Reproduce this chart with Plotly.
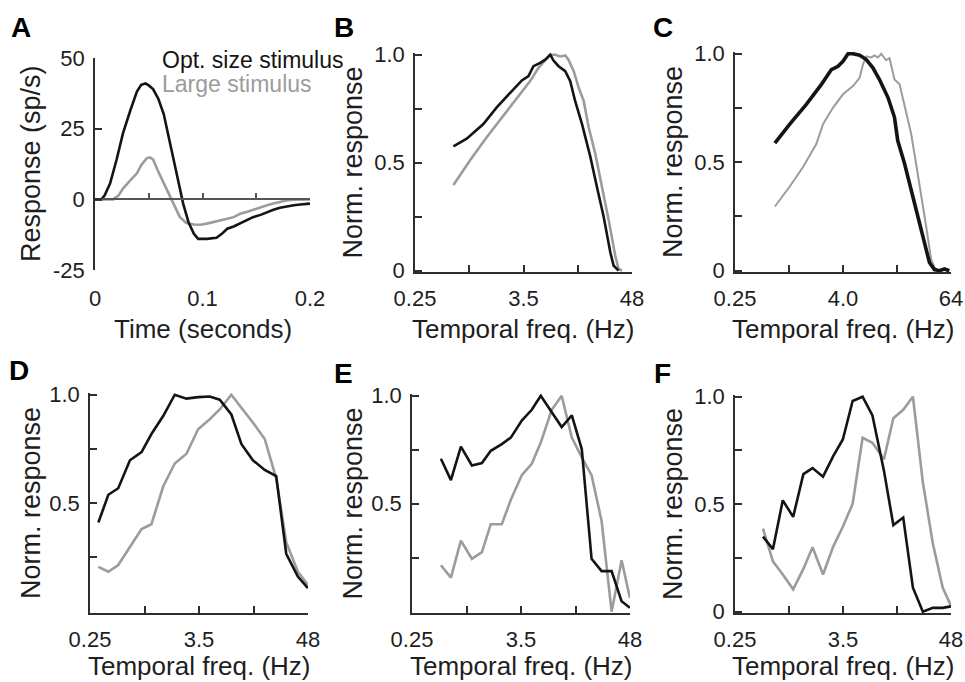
import numpy as np
import plotly.graph_objects as go

# ---------------- data ----------------
# Panel A: time course (s) vs response (sp/s)
a_t_opt = [0, 0.006, 0.009, 0.014, 0.020, 0.026, 0.033, 0.039, 0.043, 0.047,
           0.050, 0.054, 0.059, 0.064, 0.068, 0.073, 0.078, 0.082, 0.087, 0.092,
           0.096, 0.104, 0.113, 0.118, 0.123, 0.129, 0.135, 0.141, 0.147, 0.154,
           0.160, 0.166, 0.172, 0.178, 0.185, 0.191, 0.200]
a_r_opt = [0, 0, 1.4, 5.6, 13.9, 23.3, 31.6, 38.1, 40.5, 41.0,
           40.3, 39.0, 35.5, 30.1, 23.0, 14.7, 5.5, -1.5, -8.1, -12.2,
           -14.0, -14.0, -13.6, -12.2, -10.4, -9.6, -8.4, -7.5, -6.3, -5.5,
           -4.5, -3.7, -3.0, -2.5, -2.1, -1.8, -1.5]
a_t_large = [0, 0.017, 0.022, 0.026, 0.033, 0.039, 0.043, 0.048, 0.051, 0.054,
             0.059, 0.064, 0.068, 0.073, 0.079, 0.085, 0.092, 0.098, 0.104, 0.110,
             0.116, 0.123, 0.129, 0.135, 0.141, 0.147, 0.154, 0.160, 0.166, 0.172,
             0.178, 0.185, 0.191, 0.200]
a_r_large = [0, 0, 1.4, 3.8, 6.8, 9.2, 12.1, 14.5, 14.8, 14.1,
             9.7, 5.5, 2.6, -1.5, -6.3, -8.4, -8.9, -9.0, -8.6, -8.1,
             -7.7, -6.9, -6.3, -5.1, -4.5, -3.7, -3.0, -2.1, -1.5, -0.9,
             -0.4, -0.1, 0, 0]

# Panel B
b_f_opt = [0.634, 0.875, 1.31, 1.81, 2.61, 3.33, 3.91, 4.41, 5.19, 5.86, 6.62, 7.17,
           8.1, 9.52, 10.75, 12.1, 14.3, 17.5, 20.5, 24.1, 28.4, 30.8, 34.7]
b_r_opt = [0.576, 0.611, 0.679, 0.756, 0.832, 0.881, 0.901, 0.947, 0.962, 0.977, 1.0, 0.973,
           0.947, 0.924, 0.878, 0.786, 0.679, 0.527, 0.389, 0.252, 0.084, 0.023, 0.0]
b_f_large = [0.634, 0.95, 1.42, 2.13, 3.2, 4.07, 4.98, 5.86, 6.62, 7.47, 8.43, 9.52,
             10.3, 11.7, 13.2, 14.9, 16.8, 19.7, 23.2, 27.2, 32.0, 34.7, 37.7]
b_r_large = [0.397, 0.511, 0.618, 0.718, 0.817, 0.878, 0.939, 0.977, 1.0, 1.0, 0.992, 0.997,
             0.977, 0.924, 0.847, 0.786, 0.664, 0.542, 0.389, 0.237, 0.069, 0.008, 0.0]

# Panel C
c_f_opt = [0.696, 1.02, 1.56, 2.30, 2.97, 3.52, 4.0, 4.55, 5.17, 6.13, 7.27, 8.62, 10.2,
           12.7, 15.0, 16.3, 19.4, 23.0, 27.3, 32.3, 36.8, 41.8, 47.5, 54.0, 61.3]
c_r_opt = [0.588, 0.676, 0.767, 0.859, 0.927, 0.942, 0.965, 1.0, 1.0, 0.993, 0.973, 0.935, 0.881,
           0.798, 0.707, 0.6, 0.494, 0.372, 0.266, 0.129, 0.038, 0.005, 0.0, 0.008, 0.0]
c_f_large = [0.696, 1.02, 1.44, 2.02, 2.40, 3.10, 4.0, 5.17, 6.13, 6.67, 7.27, 8.26, 9.0, 9.8,
             10.7, 12.1, 13.2, 15.0, 17.1, 20.2, 23.0, 26.1, 29.7, 33.8, 38.4, 41.8, 45.5,
             51.7, 58.8]
c_r_large = [0.296, 0.388, 0.479, 0.585, 0.676, 0.752, 0.813, 0.851, 0.889, 0.950, 0.988, 0.983,
             0.992, 0.983, 1.0, 0.97, 0.98, 0.881, 0.859, 0.737, 0.631, 0.494, 0.357, 0.205,
             0.053, 0.015, 0.0, 0.005, 0.0]

# Panel D
d_f = [0.306, 0.389, 0.494, 0.655, 0.867, 1.10, 1.46, 1.93, 2.56, 3.39, 4.49, 5.71, 7.56,
       9.62, 12.7, 16.9, 22.3, 28.4, 37.6, 47.9]
d_r_opt = [0.411, 0.539, 0.569, 0.698, 0.736, 0.819, 0.902, 1.0, 0.982, 0.989, 0.992, 0.977,
           0.909, 0.773, 0.698, 0.653, 0.625, 0.267, 0.162, 0.109]
d_r_large = [0.207, 0.184, 0.215, 0.298, 0.381, 0.403, 0.577, 0.683, 0.728, 0.841, 0.887,
             0.932, 1.0, 0.94, 0.872, 0.796, 0.615, 0.320, 0.184, 0.124]

# Panel E
e_f = [0.502, 0.639, 0.813, 1.06, 1.35, 1.67, 2.18, 2.71, 3.53, 4.49, 5.58, 7.27, 9.24,
       11.8, 15.0, 19.0, 24.2, 30.8, 39.2, 47.9]
e_r_opt = [0.708, 0.609, 0.764, 0.677, 0.688, 0.745, 0.776, 0.806, 0.885, 0.935, 1.0, 0.927,
           0.855, 0.909, 0.753, 0.245, 0.188, 0.188, 0.048, 0.018]
e_r_large = [0.215, 0.158, 0.329, 0.245, 0.276, 0.405, 0.405, 0.518, 0.632, 0.685, 0.783,
             0.935, 1.0, 0.806, 0.715, 0.632, 0.420, 0.0, 0.238, 0.064]

# Panel F
f_f = [0.494, 0.629, 0.80, 1.03, 1.32, 1.65, 2.13, 2.73, 3.45, 4.38, 5.58, 7.09, 9.39,
       11.8, 15.0, 19.0, 24.2, 30.8, 39.2, 47.9]
f_r_opt = [0.349, 0.291, 0.518, 0.441, 0.640, 0.668, 0.628, 0.724, 0.801, 0.980, 1.0, 0.913,
           0.655, 0.403, 0.438, 0.112, 0.0, 0.018, 0.018, 0.025]
f_r_large = [0.387, 0.234, 0.173, 0.104, 0.199, 0.300, 0.173, 0.303, 0.395, 0.502, 0.809,
             0.786, 0.709, 0.900, 0.939, 1.0, 0.602, 0.319, 0.112, 0.028]

# Tick labels
a_xticks = [0, 0.1, 0.2]
a_xticktext = ["0", "0.1", "0.2"]
a_minor_ticks = [0.05, 0.1, 0.15, 0.2]
a_yticks = [-25, 0, 25, 50]
a_yticktext = ["-25", "0", "25", "50"]
freq_ends_48 = (0.25, 48)
freq_ends_64 = (0.25, 64)
freq_text_48 = ["0.25", "", "3.5", "", "48"]
freq_text_64 = ["0.25", "", "4.0", "", "64"]
norm_ticks = [0, 0.25, 0.5, 0.75, 1.0]
norm_text = ["0", "", "0.5", "", "1.0"]
norm_ticks_no0 = [0.25, 0.5, 0.75, 1.0]
norm_text_no0 = ["", "0.5", "", "1.0"]

legend_labels = ["Opt. size stimulus", "Large stimulus"]
panel_letters = ["A", "B", "C", "D", "E", "F"]
x_title_time = "Time (seconds)"
x_title_freq = "Temporal freq. (Hz)"
y_title_resp = "Response (sp/s)"
y_title_norm = "Norm. response"

# ---------------- style ----------------
W, H = 965, 682
FONT = "Liberation Sans, Arial, Helvetica, sans-serif"
BLACK = "#141414"
GRAY = "#9c9c9c"
AXC = "#2e2e2e"
TXT = "#1e1e1e"


def px(x):
    return x / W


def py(y):
    return 1 - y / H


# domains (pixels)
dom = {
    "A": ((95, 310), (58, 270)),
    "B": ((415, 632), (53, 272)),
    "C": ((735, 951), (52, 272)),
    "D": ((90, 308), (393, 613)),
    "E": ((412, 630), (394, 613)),
    "F": ((735, 951), (395, 613)),
}

fig = go.Figure()

axis_names = {"A": ("x", "y"), "B": ("x2", "y2"), "C": ("x3", "y3"),
              "D": ("x4", "y4"), "E": ("x5", "y5"), "F": ("x6", "y6")}

series = {
    "A": (a_t_opt, a_r_opt, a_t_large, a_r_large),
    "B": (b_f_opt, b_r_opt, b_f_large, b_r_large),
    "C": (c_f_opt, c_r_opt, c_f_large, c_r_large),
    "D": (d_f, d_r_opt, d_f, d_r_large),
    "E": (e_f, e_r_opt, e_f, e_r_large),
    "F": (f_f, f_r_opt, f_f, f_r_large),
}

for p, (xo, yo, xl, yl) in series.items():
    xa, ya = axis_names[p]
    wb = 3.6 if p == "C" else 2.6
    wg = 2.0 if p == "C" else 2.6
    fig.add_trace(go.Scatter(x=xl, y=yl, mode="lines", xaxis=xa, yaxis=ya,
                             line=dict(color=GRAY, width=wg), showlegend=False,
                             name=legend_labels[1]))
    fig.add_trace(go.Scatter(x=xo, y=yo, mode="lines", xaxis=xa, yaxis=ya,
                             line=dict(color=BLACK, width=wb), showlegend=False,
                             name=legend_labels[0]))

# invisible trace so the zero-line axis of panel A renders
fig.add_trace(go.Scatter(x=[a_t_opt[0]], y=[a_r_opt[0]], mode="lines", xaxis="x7", yaxis="y",
                         line=dict(width=0), showlegend=False, hoverinfo="skip"))

base = dict(showline=True, linecolor=AXC, linewidth=1.6, ticks="inside", ticklen=7,
            tickwidth=1.6, tickcolor=AXC, showgrid=False, zeroline=False,
            tickfont=dict(size=22, color=TXT, family=FONT), automargin=False,
            ticklabeloverflow="allow")

layout = {}
for p, ((x0, x1), (y0, y1)) in dom.items():
    xa, ya = axis_names[p]
    xk = "xaxis" + xa[1:]
    yk = "yaxis" + ya[1:]
    xd = dict(base, domain=[px(x0), px(x1)], anchor=ya)
    yd = dict(base, domain=[py(y1), py(y0)], anchor=xa, ticklabelstandoff=4)
    if p == "A":
        xd.update(range=[0, 0.2], showline=False, ticks="", tickvals=a_xticks,
                  ticktext=a_xticktext, ticklabelstandoff=13)
        yd.update(range=[-25, 50], tickvals=a_yticks, ticktext=a_yticktext)
    else:
        ends = freq_ends_64 if p == "C" else freq_ends_48
        txt = freq_text_64 if p == "C" else freq_text_48
        tv = list(np.geomspace(ends[0], ends[1], 5))
        xd.update(type="log", range=[np.log10(ends[0]), np.log10(ends[1])],
                  tickvals=tv, ticktext=txt, ticklabelstandoff=6)
        if p in ("D", "E"):
            yd.update(range=[-0.006, 1.008], tickvals=norm_ticks_no0, ticktext=norm_text_no0)
        else:
            yd.update(range=[-0.006, 1.008], tickvals=norm_ticks, ticktext=norm_text)
    layout[xk] = xd
    layout[yk] = yd

# zero line with ticks for panel A
(ax0, ax1), (ay0, ay1) = dom["A"]
zero_frac = (0 - (-25)) / (50 - (-25))
zero_pos = py(ay1) + zero_frac * (py(ay0) - py(ay1))
layout["xaxis7"] = dict(overlaying="x", anchor="free", position=zero_pos, range=[0, 0.2],
                        showline=True, linecolor="#555555", linewidth=1.6, ticks="inside",
                        ticklen=6, tickwidth=1.6, tickcolor="#555555", tickvals=a_minor_ticks,
                        showticklabels=False, showgrid=False, zeroline=False, automargin=False)

annotations = []
# panel letters
letter_pos = {"A": (9, 28), "B": (332, 28), "C": (651, 28),
              "D": (7, 370), "E": (332, 374), "F": (652, 374)}
for L in panel_letters:
    x, y = letter_pos[L]
    annotations.append(dict(text=L, x=px(x), y=py(y), xref="paper", yref="paper",
                            xanchor="left", yanchor="middle", showarrow=False,
                            font=dict(size=28, family=FONT, color="#000000", weight="bold")))

# axis titles
for p, ((x0, x1), (y0, y1)) in dom.items():
    xt = x_title_time if p == "A" else x_title_freq
    yt = y_title_resp if p == "A" else y_title_norm
    ty = 329 if p in ("A", "B", "C") else 666
    annotations.append(dict(text=xt, x=px((x0 + x1) / 2), y=py(ty), xref="paper", yref="paper",
                            xanchor="center", yanchor="middle", showarrow=False,
                            font=dict(size=26, family=FONT, color=TXT)))
    ytx = {"A": 31, "B": 352, "C": 673, "D": 31, "E": 352, "F": 673}[p]
    annotations.append(dict(text=yt, x=px(ytx), y=py((y0 + y1) / 2), xref="paper", yref="paper",
                            xanchor="center", yanchor="middle", showarrow=False, textangle=-90,
                            font=dict(size=27, family=FONT, color=TXT)))

# legend text in panel A
annotations.append(dict(text=legend_labels[0], x=px(160), y=py(60), xref="paper", yref="paper",
                        xanchor="left", yanchor="middle", showarrow=False,
                        font=dict(size=23, family=FONT, color=BLACK)))
annotations.append(dict(text=legend_labels[1], x=px(160), y=py(84), xref="paper", yref="paper",
                        xanchor="left", yanchor="middle", showarrow=False,
                        font=dict(size=23, family=FONT, color=GRAY)))

fig.update_layout(width=W, height=H, margin=dict(l=0, r=0, t=0, b=0),
                  paper_bgcolor="white", plot_bgcolor="white",
                  font=dict(family=FONT, color=TXT),
                  annotations=annotations, showlegend=False, **layout)

fig.write_html("out.html")
